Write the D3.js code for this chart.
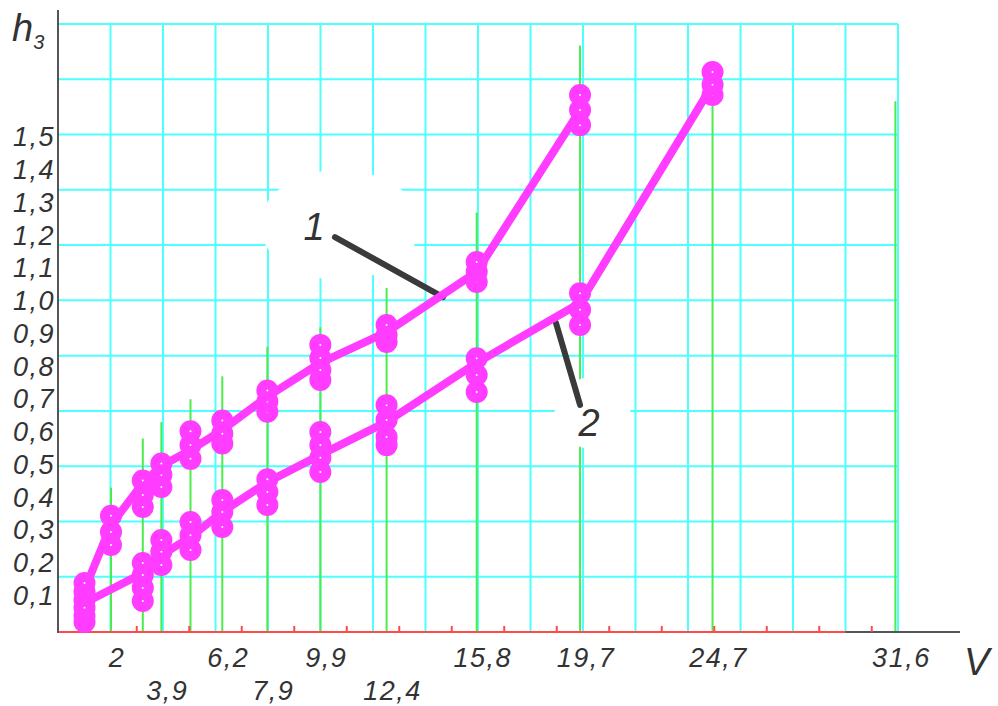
<!DOCTYPE html>
<html>
<head>
<meta charset="utf-8">
<script src="https://cdn.jsdelivr.net/npm/d3@7"></script>
<style>
  html, body { margin: 0; padding: 0; background: #fff; }
  text { font-family: "Liberation Sans", Arial, sans-serif; font-style: italic; fill: #333; }
</style>
</head>
<body>
<div id="chart"></div>
<script>
// measured points, V on x, h3 on y
const series1LineX = [1, 2, 3.2, 3.9, 5.0, 6.2, 7.9, 9.9, 12.4, 15.8, 19.7];
const series1LineY = [0.118, 0.316, 0.444, 0.496, 0.545, 0.606, 0.708, 0.811, 0.905, 1.089, 1.583];
const series2LineX = [1, 3.2, 3.9, 5.0, 6.2, 7.9, 9.9, 12.4, 15.8, 19.7, 24.7];
const series2LineY = [0.078, 0.169, 0.224, 0.279, 0.356, 0.447, 0.530, 0.631, 0.811, 0.994, 1.660];

// repeated measurements (rings) per V
const series1Markers = [
  [1, [0.087, 0.112, 0.139]],
  [2, [0.255, 0.295, 0.344]],
  [3.2, [0.371, 0.408, 0.452]],
  [3.9, [0.432, 0.469, 0.504]],
  [5.0, [0.518, 0.560, 0.602]],
  [6.2, [0.565, 0.595, 0.635]],
  [7.9, [0.662, 0.693, 0.727]],
  [9.9, [0.759, 0.789, 0.826, 0.866]],
  [12.4, [0.875, 0.896, 0.927]],
  [15.8, [1.058, 1.089, 1.119]],
  [19.7, [1.537, 1.583, 1.629]]
];
const series2Markers = [
  [1, [0.020, 0.038, 0.063]],
  [3.2, [0.084, 0.124, 0.163, 0.200]],
  [3.9, [0.194, 0.234, 0.270]],
  [5.0, [0.240, 0.285, 0.325]],
  [6.2, [0.310, 0.356, 0.392]],
  [7.9, [0.377, 0.417, 0.456]],
  [9.9, [0.478, 0.521, 0.560, 0.600]],
  [12.4, [0.560, 0.585, 0.637, 0.682]],
  [15.8, [0.722, 0.774, 0.825]],
  [19.7, [0.927, 0.973, 1.024]],
  [24.7, [1.629, 1.660, 1.699]]
];

// green guide lines: V and how high they reach
const guideX = [2, 3.2, 3.9, 5.0, 6.2, 7.9, 9.9, 12.4, 15.8, 19.7, 24.7, 31.6];
const guideTop = [0.43, 0.58, 0.63, 0.70, 0.77, 0.86, 0.92, 1.04, 1.27, 1.78, 1.70, 1.61];

const yTickValues = [0.1, 0.2, 0.3, 0.4, 0.5, 0.6, 0.7, 0.8, 0.9, 1.0, 1.1, 1.2, 1.3, 1.4, 1.5];
const yTickLabels = ["0,1", "0,2", "0,3", "0,4", "0,5", "0,6", "0,7", "0,8", "0,9", "1,0", "1,1", "1,2", "1,3", "1,4", "1,5"];
const xTickValues = [2, 3.9, 6.2, 7.9, 9.9, 12.4, 15.8, 19.7, 24.7, 31.6];
const xTickLabels = ["2", "3,9", "6,2", "7,9", "9,9", "12,4", "15,8", "19,7", "24,7", "31,6"];
const xTickRow = [0, 1, 0, 1, 0, 1, 0, 0, 0, 0];

// curve labels: text position and leader line, in data units
const curveLabels = [
  { text: "1", x: 9.66, y: 1.229, from: [10.45, 1.195], to: [14.53, 1.012] },
  { text: "2", x: 20.04, y: 0.63, from: [18.79, 0.933], to: [19.70, 0.683] }
];

const width = 998, height = 706;
const magenta = "#ff3cff";

const svg = d3.select("#chart").append("svg")
  .attr("width", width)
  .attr("height", height);

svg.append("rect").attr("width", width).attr("height", height).attr("fill", "#fff");

const x = d3.scaleLinear().domain([0, 34]).range([58, 58 + 34 * 26.5]);
const y = d3.scaleLinear().domain([0, 1.9]).range([628.5, 628.5 - 1.9 * 327.5]);

// background mesh (independent of data units)
const gridX = d3.scaleLinear().domain([0, 16]).range([58, 898]);
const gridY = d3.scaleLinear().domain([0, 11]).range([632, 24]);

const grid = svg.append("g").attr("stroke", "#4dffff").attr("stroke-width", 2);
grid.selectAll("line.h")
  .data(d3.range(1, 12))
  .join("line")
  .attr("class", "h")
  .attr("x1", gridX(0)).attr("x2", gridX(16))
  .attr("y1", d => gridY(d)).attr("y2", d => gridY(d));
grid.selectAll("line.v")
  .data(d3.range(1, 17))
  .join("line")
  .attr("class", "v")
  .attr("x1", d => gridX(d)).attr("x2", d => gridX(d))
  .attr("y1", gridY(11)).attr("y2", gridY(0));

svg.append("g")
  .attr("stroke", "#4cec4c")
  .attr("stroke-width", 2)
  .selectAll("line")
  .data(guideX)
  .join("line")
  .attr("x1", d => x(d)).attr("x2", d => x(d))
  .attr("y1", (d, i) => y(guideTop[i]))
  .attr("y2", gridY(0));

// white patches where the labels were pasted over the grid
svg.append("ellipse")
  .attr("cx", x(10.64)).attr("cy", y(1.232))
  .attr("rx", 80).attr("ry", 55)
  .attr("fill", "#fff");
svg.append("ellipse")
  .attr("cx", x(20.17)).attr("cy", y(0.658))
  .attr("rx", 38).attr("ry", 36)
  .attr("fill", "#fff");

// axes
svg.append("line")
  .attr("x1", gridX(0)).attr("x2", 960)
  .attr("y1", gridY(0)).attr("y2", gridY(0))
  .attr("stroke", "#555").attr("stroke-width", 2);
svg.append("line")
  .attr("x1", gridX(0)).attr("x2", gridX(15))
  .attr("y1", gridY(0)).attr("y2", gridY(0))
  .attr("stroke", "#ff4a4a").attr("stroke-width", 2);
svg.append("g")
  .attr("stroke", "#ff4a4a")
  .attr("stroke-width", 2)
  .selectAll("line")
  .data(d3.range(0, 16))
  .join("line")
  .attr("x1", d => gridX(d + 0.5)).attr("x2", d => gridX(d + 0.5))
  .attr("y1", gridY(0)).attr("y2", gridY(0) - 6);
svg.append("line")
  .attr("x1", gridX(0)).attr("x2", gridX(0))
  .attr("y1", 10).attr("y2", gridY(0) + 1)
  .attr("stroke", "#555").attr("stroke-width", 2);

// leaders for curve labels
svg.append("g")
  .selectAll("line")
  .data(curveLabels)
  .join("line")
  .attr("x1", d => x(d.from[0])).attr("y1", d => y(d.from[1]))
  .attr("x2", d => x(d.to[0])).attr("y2", d => y(d.to[1]))
  .attr("stroke", "#3a3a3a")
  .attr("stroke-width", 6)
  .attr("stroke-linecap", "round");

// curves
const line = d3.line().x(d => x(d[0])).y(d => y(d[1]));
[[series1LineX, series1LineY], [series2LineX, series2LineY]].forEach(([xs, ys]) => {
  svg.append("path")
    .datum(xs.map((v, i) => [v, ys[i]]))
    .attr("d", line)
    .attr("fill", "none")
    .attr("stroke", magenta)
    .attr("stroke-width", 8)
    .attr("stroke-linejoin", "round")
    .attr("stroke-linecap", "round");
});

// ring markers
const rings = [];
[series1Markers, series2Markers].forEach(s => {
  s.forEach(([v, hs]) => hs.forEach(h => rings.push([v, h])));
});
svg.append("g")
  .selectAll("circle")
  .data(rings)
  .join("circle")
  .attr("cx", d => x(d[0]))
  .attr("cy", d => y(d[1]))
  .attr("r", 6)
  .attr("fill", "#fff")
  .attr("stroke", magenta)
  .attr("stroke-width", 10);

// tick labels
svg.append("g")
  .selectAll("text")
  .data(yTickValues)
  .join("text")
  .attr("x", 55)
  .attr("y", d => y(d) + 9)
  .attr("text-anchor", "end")
  .attr("font-size", 27)
  .attr("letter-spacing", "1.5px")
  .text((d, i) => yTickLabels[i]);

svg.append("g")
  .selectAll("text")
  .data(xTickValues)
  .join("text")
  .attr("x", d => x(d) + 6)
  .attr("y", (d, i) => xTickRow[i] ? 700 : 667)
  .attr("text-anchor", "middle")
  .attr("font-size", 27)
  .attr("letter-spacing", "1.5px")
  .text((d, i) => xTickLabels[i]);

// axis titles
const hLabel = svg.append("text")
  .attr("x", 12).attr("y", 41)
  .attr("font-size", 38);
hLabel.append("tspan").text("h");
hLabel.append("tspan").attr("font-size", 20).attr("dy", 8).text("3");

svg.append("text")
  .attr("x", 964).attr("y", 675)
  .attr("font-size", 38)
  .text("V");

svg.append("g")
  .selectAll("text")
  .data(curveLabels)
  .join("text")
  .attr("x", d => x(d.x))
  .attr("y", d => y(d.y) + 14)
  .attr("text-anchor", "middle")
  .attr("font-size", 38)
  .text(d => d.text);
</script>
</body>
</html>
